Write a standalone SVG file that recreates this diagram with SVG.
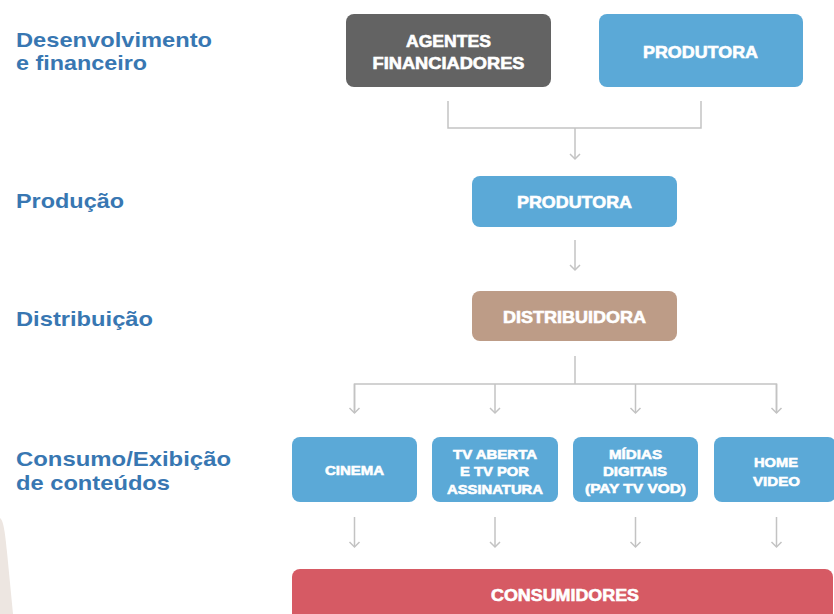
<svg xmlns="http://www.w3.org/2000/svg" width="834" height="614" viewBox="0 0 834 614">
<defs>
<style>
.lbl{font-family:"Liberation Sans",Arial,sans-serif;font-weight:700;font-size:20.5px;fill:#3877b2}
.nt{font-family:"Liberation Sans",Arial,sans-serif;font-weight:700;fill:#ffffff;stroke:#ffffff;stroke-width:0.6;text-anchor:middle}
.big{font-size:16.5px}
.sm{font-size:13.5px}
.blue{fill:#5ba9d7}
.conn{fill:none;stroke:#c3c3c3;stroke-width:1.5}
</style>
<marker id="arr" markerUnits="userSpaceOnUse" markerWidth="14" markerHeight="14" viewBox="-7 -7 14 14" refX="0" refY="0" orient="auto">
<path d="M-5,-5 L0,0 L-5,5" fill="none" stroke="#c3c3c3" stroke-width="1.5"/>
</marker>
</defs>
<rect width="834" height="614" fill="#ffffff"/>
<path d="M0,518 C3,520 5,530 7,552 L13,614 L0,614 Z" fill="#ede6e1"/>

<g id="labels">
<text class="lbl" x="16" y="46.5" textLength="196" lengthAdjust="spacingAndGlyphs">Desenvolvimento</text>
<text class="lbl" x="16" y="69.5" textLength="131" lengthAdjust="spacingAndGlyphs">e financeiro</text>
<text class="lbl" x="16" y="208" textLength="108" lengthAdjust="spacingAndGlyphs">Produção</text>
<text class="lbl" x="16" y="326" textLength="137" lengthAdjust="spacingAndGlyphs">Distribuição</text>
<text class="lbl" x="16" y="466" textLength="215" lengthAdjust="spacingAndGlyphs">Consumo/Exibição</text>
<text class="lbl" x="16" y="489.5" textLength="154" lengthAdjust="spacingAndGlyphs">de conteúdos</text>
</g>

<g id="connectors">
<path class="conn" d="M448,101 V128 H701 V101"/>
<path class="conn" d="M575,128 V159" marker-end="url(#arr)"/>
<path class="conn" d="M575,240 V270" marker-end="url(#arr)"/>
<path class="conn" d="M575,356 V384"/>
<path class="conn" d="M354.5,413 V384 H776.5 V413"/>
<path class="conn" d="M354.5,384 V413" marker-end="url(#arr)"/>
<path class="conn" d="M495,384 V413" marker-end="url(#arr)"/>
<path class="conn" d="M635.5,384 V413" marker-end="url(#arr)"/>
<path class="conn" d="M776.5,384 V413" marker-end="url(#arr)"/>
<path class="conn" d="M354.5,517 V547" marker-end="url(#arr)"/>
<path class="conn" d="M495,517 V547" marker-end="url(#arr)"/>
<path class="conn" d="M635.5,517 V547" marker-end="url(#arr)"/>
<path class="conn" d="M776.5,517 V547" marker-end="url(#arr)"/>
</g>

<g id="agentes">
<rect x="346" y="14" width="205" height="73" rx="8" fill="#636363"/>
<text class="nt big" x="448.5" y="47" textLength="85" lengthAdjust="spacingAndGlyphs">AGENTES</text>
<text class="nt big" x="448.5" y="69" textLength="152" lengthAdjust="spacingAndGlyphs">FINANCIADORES</text>
</g>
<g id="produtora-top">
<rect class="blue" x="599" y="14" width="204" height="73" rx="8"/>
<text class="nt big" x="700.5" y="58" textLength="115" lengthAdjust="spacingAndGlyphs">PRODUTORA</text>
</g>
<g id="produtora">
<rect class="blue" x="472" y="176" width="205" height="51" rx="8"/>
<text class="nt big" x="574.5" y="208" textLength="115" lengthAdjust="spacingAndGlyphs">PRODUTORA</text>
</g>
<g id="distribuidora">
<rect x="472" y="291" width="205" height="50" rx="8" fill="#bd9c87"/>
<text class="nt big" x="574.5" y="323" textLength="143" lengthAdjust="spacingAndGlyphs">DISTRIBUIDORA</text>
</g>
<g id="cinema">
<rect class="blue" x="292" y="437" width="125" height="65" rx="8"/>
<text class="nt sm" x="354.5" y="475" textLength="59" lengthAdjust="spacingAndGlyphs">CINEMA</text>
</g>
<g id="tv">
<rect class="blue" x="432" y="437" width="126" height="65" rx="8"/>
<text class="nt sm" x="495" y="459" textLength="84" lengthAdjust="spacingAndGlyphs">TV ABERTA</text>
<text class="nt sm" x="494.5" y="476" textLength="69" lengthAdjust="spacingAndGlyphs">E TV POR</text>
<text class="nt sm" x="495" y="494" textLength="96" lengthAdjust="spacingAndGlyphs">ASSINATURA</text>
</g>
<g id="midias">
<rect class="blue" x="573" y="437" width="125" height="65" rx="8"/>
<text class="nt sm" x="635.5" y="459" textLength="53" lengthAdjust="spacingAndGlyphs">MÍDIAS</text>
<text class="nt sm" x="635" y="476" textLength="64" lengthAdjust="spacingAndGlyphs">DIGITAIS</text>
<text class="nt sm" x="635.5" y="493" textLength="101" lengthAdjust="spacingAndGlyphs">(PAY TV VOD)</text>
</g>
<g id="home">
<rect class="blue" x="714" y="437" width="122" height="65" rx="8"/>
<text class="nt sm" x="776" y="467" textLength="44" lengthAdjust="spacingAndGlyphs">HOME</text>
<text class="nt sm" x="776.5" y="486" textLength="47" lengthAdjust="spacingAndGlyphs">VIDEO</text>
</g>
<g id="consumidores">
<rect x="292" y="569" width="541" height="60" rx="8" fill="#d65a64"/>
<text class="nt big" x="565" y="601" textLength="148" lengthAdjust="spacingAndGlyphs">CONSUMIDORES</text>
</g>
</svg>
